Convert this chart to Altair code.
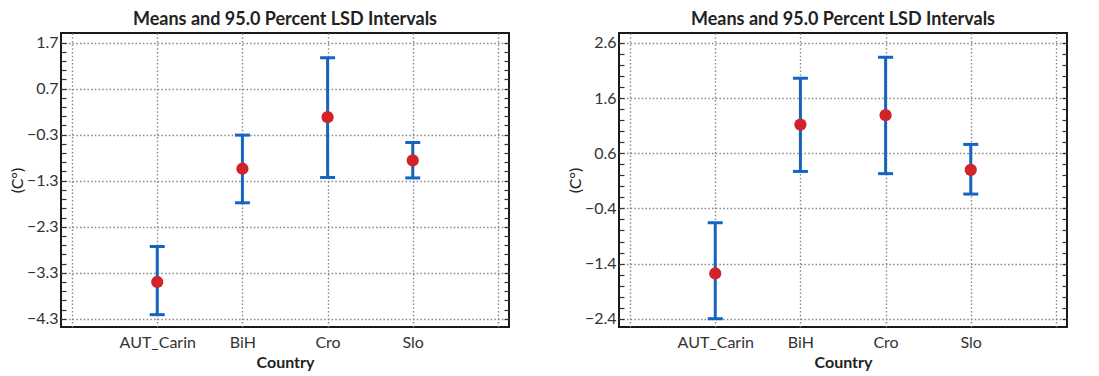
import altair as alt
import pandas as pd

countries = ["AUT_Carin", "BiH", "Cro", "Slo"]
left_mean = [-3.50, -1.04, 0.08, -0.86]
left_lower = [-4.21, -1.78, -1.23, -1.24]
left_upper = [-2.73, -0.31, 1.37, -0.47]
right_mean = [-1.58, 1.12, 1.29, 0.30]
right_lower = [-2.40, 0.27, 0.23, -0.14]
right_upper = [-0.66, 1.96, 2.34, 0.76]

left_domain = [-4.478, 1.908]
left_major = [-4.3, -3.3, -2.3, -1.3, -0.3, 0.7, 1.7]
right_domain = [-2.55, 2.78]
right_major = [-2.4, -1.4, -0.4, 0.6, 1.6, 2.6]

x_domain = [" ", "AUT_Carin", "BiH", "Cro", "Slo", "  "]
title_text = "Means and 95.0 Percent LSD Intervals"

FONT = "Lato"
BLUE = "#1565c0"
RED = "#d3232a"
W = 448
H = 294


def minor_ticks(major):
    vals = []
    lo = major[0]
    n = int(round((major[-1] - major[0]) / 0.2))
    for i in range(n + 1):
        vals.append(round(lo + 0.2 * i, 2))
    return vals


def panel(mean, lower, upper, domain, major):
    df = pd.DataFrame({"Country": countries, "mean": mean, "lower": lower, "upper": upper})
    base = alt.Chart(df)
    xs = alt.Scale(type="point", domain=x_domain, padding=0.13)
    ys = alt.Scale(domain=domain, nice=False, zero=False)
    minors = minor_ticks(major)

    x_axis = alt.Axis(
        title="Country", values=x_domain, grid=True, gridDash=[1.5, 2.2], gridColor="#888",
        gridWidth=1.4, ticks=False, domain=False, labelFont=FONT, labelFontSize=16,
        labelColor="#333", labelPadding=7, labelAngle=0, titleFont=FONT, titleFontSize=16,
        titleFontWeight="bold", titleColor="#222", titlePadding=4,
    )
    y_axis = alt.Axis(
        title="(C°)", values=major, grid=True, gridDash=[1.5, 2.2], gridColor="#888",
        gridWidth=1.4, ticks=False, domain=False, labelFont=FONT, labelFontSize=16,
        labelColor="#333", labelPadding=3, titleFont=FONT, titleFontSize=16,
        titleFontWeight="normal", titleColor="#222", titlePadding=1, format=".1f",
    )
    left_ticks = alt.Axis(
        orient="right", offset=-W, values=minors, labels=False, grid=False, domain=False,
        ticks=True, tickSize=5, tickColor="#333", tickWidth=1.2, title=None,
    )
    right_ticks = alt.Axis(
        orient="left", offset=-W, values=minors, labels=False, grid=False, domain=False,
        ticks=True, tickSize=5, tickColor="#333", tickWidth=1.2, title=None,
    )

    X = alt.X("Country:N", scale=xs, axis=x_axis, sort=x_domain)

    bars = base.mark_rule(color=BLUE, strokeWidth=3).encode(
        x=X,
        y=alt.Y("lower:Q", scale=ys, axis=y_axis),
        y2="upper:Q",
    )
    cap_hi = base.mark_tick(color=BLUE, thickness=3, size=15, orient="horizontal", opacity=1).encode(
        x=X,
        y=alt.Y("upper:Q", scale=ys, axis=left_ticks),
    )
    cap_lo = base.mark_tick(color=BLUE, thickness=3, size=15, orient="horizontal", opacity=1).encode(
        x=X,
        y=alt.Y("lower:Q", scale=ys, axis=right_ticks),
    )
    pts = base.mark_circle(color=RED, size=150, opacity=1).encode(
        x=X,
        y=alt.Y("mean:Q", scale=ys, axis=None),
    )
    return (
        alt.layer(bars, cap_hi, cap_lo, pts)
        .resolve_axis(y="independent")
        .properties(width=W, height=H, title=title_text)
    )


left = panel(left_mean, left_lower, left_upper, left_domain, left_major)
right = panel(right_mean, right_lower, right_upper, right_domain, right_major)

chart = (
    alt.hconcat(left, right, spacing=55)
    .configure(background="white", padding={"top": 2, "left": 0, "right": 0, "bottom": 0})
    .configure_view(stroke="#1a1a1a", strokeWidth=2)
    .configure_title(font=FONT, fontSize=18, fontWeight="bold", anchor="middle", offset=0, color="#222")
)

chart.save("out.html", embed_options={"renderer": "svg", "actions": False})
